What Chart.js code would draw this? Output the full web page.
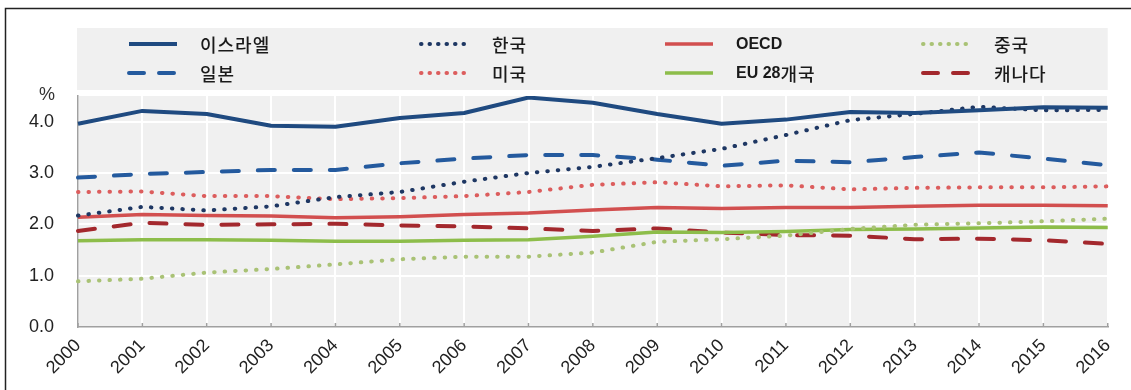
<!DOCTYPE html>
<html>
<head>
<meta charset="utf-8">
<script src="https://cdn.jsdelivr.net/npm/chart.js@4/dist/chart.umd.min.js"></script>
<style>
    html, body { margin: 0; padding: 0; background: #fff; }
    #wrap { width: 1131px; height: 390px; position: relative; }
</style>
</head>
<body>
<div id="wrap"><canvas id="chart-area"></canvas></div>
<script>
// R&D 지출 (GDP 대비 %), 2000-2016
var years = ['2000', '2001', '2002', '2003', '2004', '2005', '2006', '2007', '2008',
             '2009', '2010', '2011', '2012', '2013', '2014', '2015', '2016'];

var israel = [3.96, 4.21, 4.15, 3.92, 3.90, 4.07, 4.17, 4.47, 4.37, 4.15, 3.96, 4.04, 4.19, 4.17, 4.22, 4.28, 4.27];
var korea  = [2.17, 2.34, 2.27, 2.35, 2.53, 2.63, 2.83, 3.00, 3.12, 3.29, 3.47, 3.74, 4.03, 4.15, 4.29, 4.22, 4.23];
var oecd   = [2.14, 2.19, 2.17, 2.16, 2.13, 2.15, 2.19, 2.22, 2.28, 2.33, 2.31, 2.33, 2.33, 2.35, 2.37, 2.37, 2.36];
var china  = [0.89, 0.94, 1.06, 1.13, 1.22, 1.32, 1.37, 1.37, 1.45, 1.66, 1.71, 1.78, 1.91, 1.99, 2.02, 2.06, 2.11];
var japan  = [2.91, 2.98, 3.02, 3.06, 3.06, 3.19, 3.28, 3.35, 3.35, 3.26, 3.14, 3.24, 3.21, 3.31, 3.40, 3.28, 3.15];
var usa    = [2.63, 2.64, 2.55, 2.55, 2.49, 2.51, 2.55, 2.63, 2.77, 2.82, 2.74, 2.76, 2.68, 2.71, 2.72, 2.72, 2.74];
var eu28   = [1.68, 1.70, 1.70, 1.69, 1.67, 1.67, 1.69, 1.70, 1.77, 1.85, 1.84, 1.86, 1.90, 1.91, 1.93, 1.95, 1.94];
var canada = [1.87, 2.03, 1.99, 2.00, 2.01, 1.98, 1.96, 1.92, 1.87, 1.92, 1.84, 1.79, 1.78, 1.71, 1.72, 1.69, 1.62];

var yTicks = [0, 1, 2, 3, 4];

var DOTS = [0.5, 10];
var DASH = [17, 19];

function line(label, data, color, width, dash) {
    return {
        label: label,
        data: data,
        borderColor: color,
        backgroundColor: color,
        borderWidth: width,
        borderDash: dash || [],
        borderCapStyle: dash ? 'round' : 'butt',
        borderJoinStyle: 'round',
        pointRadius: 0,
        tension: 0,
        fill: false
    };
}

// legend slots: [column, row]
var slots = [[0, 0], [1, 0], [2, 0], [3, 0], [0, 1], [1, 1], [2, 1], [3, 1]];
var colX = [127, 419, 663, 921];
var rowY = [44, 73];

function drawLabel(ctx, text, x, y) {
    var runs = text.match(/[\uac00-\ud7a3]+|[^\uac00-\ud7a3]+/g);
    runs.forEach(function (r) {
        if (/[\uac00-\ud7a3]/.test(r)) {
            ctx.font = '500 18px "Noto Sans CJK KR"';
            ctx.letterSpacing = '1px';
        } else {
            ctx.font = 'bold 16px "Liberation Sans", Arial, sans-serif';
            ctx.letterSpacing = '0px';
        }
        ctx.fillText(r, x, y);
        x += ctx.measureText(r).width;
    });
    ctx.letterSpacing = '0px';
}

var framePlugin = {
    id: 'frame',
    beforeDraw: function (chart) {
        var ctx = chart.ctx, a = chart.chartArea;
        ctx.save();
        ctx.fillStyle = '#f0f0f0';
        ctx.fillRect(77, 28, a.right - 77, 62);
        ctx.fillRect(a.left, a.top, a.right - a.left, a.bottom - a.top);
        ctx.restore();
    },
    afterDraw: function (chart) {
        var ctx = chart.ctx, a = chart.chartArea;
        ctx.save();

        // outer frame (top and left edges)
        ctx.strokeStyle = '#222';
        ctx.lineWidth = 1.5;
        ctx.beginPath();
        ctx.moveTo(5.5, 390);
        ctx.lineTo(5.5, 8.5);
        ctx.lineTo(1131, 8.5);
        ctx.stroke();

        // small inner tick marks on the x axis
        ctx.strokeStyle = '#a0a0a0';
        ctx.lineWidth = 1.5;
        var xs = chart.scales.x;
        ctx.beginPath();
        for (var i = 0; i < years.length; i++) {
            var px = xs.getPixelForValue(i);
            ctx.moveTo(px, a.bottom - 4);
            ctx.lineTo(px, a.bottom);
        }
        ctx.stroke();

        // unit label
        ctx.fillStyle = '#333';
        ctx.font = '18px "Liberation Sans", Arial, sans-serif';
        ctx.textAlign = 'center';
        ctx.textBaseline = 'middle';
        ctx.fillText('%', 47, 95);

        // legend
        ctx.textAlign = 'left';
        chart.data.datasets.forEach(function (ds, k) {
            var x = colX[slots[k][0]], y = rowY[slots[k][1]];
            ctx.strokeStyle = ds.borderColor;
            ctx.lineWidth = ds.borderWidth;
            ctx.lineCap = ds.borderCapStyle;
            ctx.setLineDash(ds.borderDash.length ? (ds.borderDash === DOTS ? [0.5, 8] : [15, 15]) : []);
            ctx.beginPath();
            ctx.moveTo(x + 2, y);
            ctx.lineTo(x + 50, y);
            ctx.stroke();
            ctx.setLineDash([]);
            ctx.fillStyle = '#1a1a1a';
            drawLabel(ctx, ds.label, x + 73, y + 1);
        });
        ctx.restore();
    }
};

var config = {
    type: 'line',
    data: {
        labels: years,
        datasets: [
            line('이스라엘', israel, '#1f4a80', 4),
            line('한국', korea, '#1e3763', 4, DOTS),
            line('OECD', oecd, '#d24f4f', 3.5),
            line('중국', china, '#a9c275', 4, DOTS),
            line('일본', japan, '#245a9e', 4, DASH),
            line('미국', usa, '#dc5d5d', 4, DOTS),
            line('EU 28개국', eu28, '#8dbd4a', 3.5),
            line('캐나다', canada, '#a3282d', 4, DASH)
        ]
    },
    options: {
        responsive: true,
        maintainAspectRatio: false,
        animation: false,
        layout: {
            padding: { left: 0, top: 96, right: 21, bottom: 0 }
        },
        plugins: {
            legend: { display: false },
            tooltip: { enabled: false }
        },
        scales: {
            x: {
                offset: false,
                grid: { color: '#ffffff', lineWidth: 2, drawTicks: false },
                border: { color: '#a0a0a0', width: 1.5 },
                ticks: {
                    autoSkip: false,
                    maxRotation: 45,
                    minRotation: 45,
                    padding: 8,
                    color: '#222',
                    font: { family: '"Liberation Sans", Arial, sans-serif', size: 18 }
                },
                afterFit: function (scale) { scale.height = 63; }
            },
            y: {
                min: 0,
                max: 4.5,
                afterBuildTicks: function (scale) {
                    scale.ticks = yTicks.map(function (v) { return { value: v }; });
                },
                grid: { color: '#ffffff', lineWidth: 2, drawTicks: false },
                border: { color: '#a0a0a0', width: 1.5 },
                ticks: {
                    padding: 24,
                    color: '#222',
                    font: { family: '"Liberation Sans", Arial, sans-serif', size: 18 },
                    callback: function (v) { return Number(v).toFixed(1); }
                },
                afterFit: function (scale) { scale.width = 78; }
            }
        }
    },
    plugins: [framePlugin]
};

var ctx = document.getElementById('chart-area').getContext('2d');
var myChart = new Chart(ctx, config);
</script>
</body>
</html>
